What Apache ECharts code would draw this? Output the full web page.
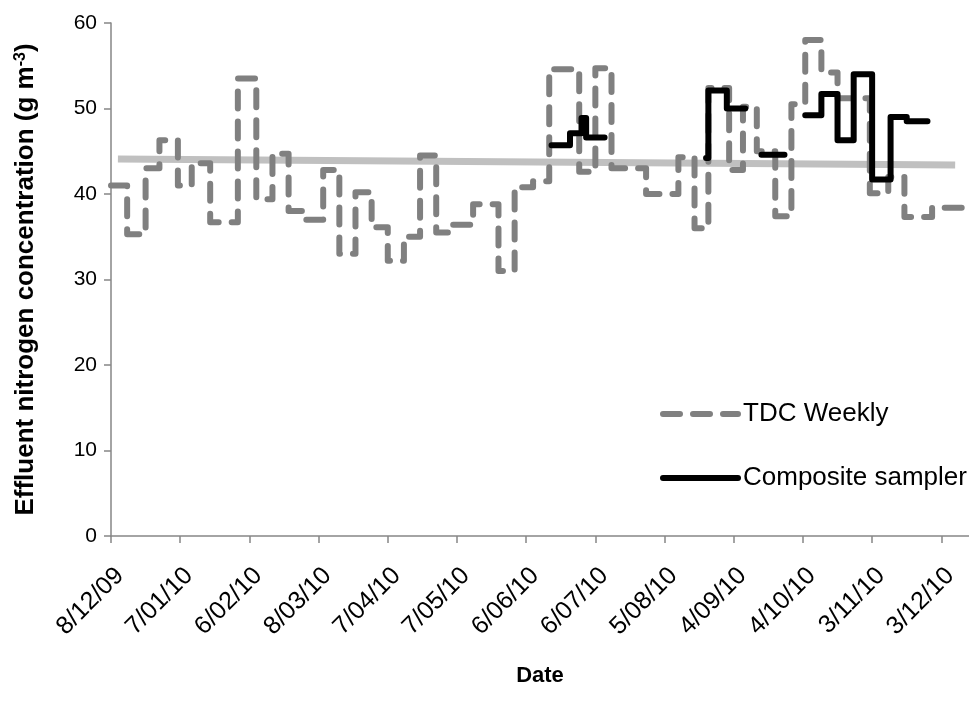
<!DOCTYPE html>
<html>
<head>
<meta charset="utf-8">
<script src="https://cdn.jsdelivr.net/npm/echarts@6/dist/echarts.min.js"></script>
<style>
  html, body { margin: 0; padding: 0; background: #fff; }
  #chart { width: 969px; height: 707px; }
</style>
</head>
<body>
<div id="chart"></div>
<script>
// Weekly TDC effluent nitrogen results (g m-3); each value holds until the next date
const tdcDates = [
  '2009-12-08', '2009-12-15', '2009-12-23', '2009-12-29', '2010-01-06', '2010-01-12',
  '2010-01-20', '2010-02-01', '2010-02-09', '2010-02-16', '2010-02-23', '2010-03-02',
  '2010-03-10', '2010-03-17', '2010-03-24', '2010-03-31', '2010-04-07', '2010-04-14',
  '2010-04-21', '2010-04-28', '2010-05-05', '2010-05-14', '2010-05-25', '2010-06-01',
  '2010-06-09', '2010-06-16', '2010-06-29', '2010-07-06', '2010-07-13', '2010-07-28',
  '2010-08-11', '2010-08-18', '2010-08-24', '2010-09-02', '2010-09-08', '2010-09-14',
  '2010-09-22', '2010-09-29', '2010-10-05', '2010-10-12', '2010-10-19', '2010-11-02',
  '2010-11-10', '2010-11-17', '2010-11-29', '2010-12-15'
];
const tdcValues = [
  41.0, 35.3, 43.0, 46.3, 41.0, 43.6,
  36.7, 53.5, 39.4, 44.7, 38.0, 37.0,
  42.8, 33.0, 40.2, 36.1, 32.2, 35.0,
  44.5, 35.5, 36.4, 38.8, 31.0, 40.8,
  41.5, 54.6, 42.6, 54.7, 43.0, 40.0,
  44.3, 36.0, 52.4, 42.8, 50.2, 45.0,
  37.4, 50.5, 58.0, 54.2, 51.2, 40.1,
  42.0, 37.3, 38.4, 38.4
];

// Composite sampler results; null marks a gap between sampling runs
const compDates = [
  '2010-06-17', '2010-06-25', '2010-06-30', '2010-07-02', '2010-07-10', '2010-07-10',
  '2010-08-23', '2010-08-24', '2010-09-01', '2010-09-09', '2010-09-09',
  '2010-09-16', '2010-09-26', '2010-09-26',
  '2010-10-05', '2010-10-12', '2010-10-19', '2010-10-26', '2010-11-03', '2010-11-11',
  '2010-11-18', '2010-11-27'
];
const compValues = [
  45.7, 47.1, 48.9, 46.6, 46.6, null,
  44.2, 52.1, 50.0, 50.0, null,
  44.6, 44.6, null,
  49.2, 51.7, 46.3, 54.0, 41.7, 49.0,
  48.5, 48.5
];

// Linear trend of the weekly results
const trendDates = ['2009-12-11', '2010-12-09'];
const trendValues = [44.1, 43.4];

// Axis settings
const axisStart = '2009-12-08';
const axisDays = 372;
const tickDays = 30;
const yTicks = [0, 10, 20, 30, 40, 50, 60];

const DAY = 86400000;
const base = Date.parse(axisStart);
const toDay = s => (Date.parse(s) - base) / DAY;
const pairs = (dates, values) => dates.map((d, i) => [toDay(d), values[i]]);

function fmtDate(v) {
  if (Math.round(v) % tickDays !== 0) return '';
  const d = new Date(base + Math.round(v) * DAY);
  const mm = String(d.getUTCMonth() + 1).padStart(2, '0');
  const yy = String(d.getUTCFullYear() % 100).padStart(2, '0');
  return d.getUTCDate() + '/' + mm + '/' + yy;
}

const FONT = "'Liberation Sans', Arial, sans-serif";
const AXIS_GREY = '#868686';
const chart = echarts.init(document.getElementById('chart'), null, { renderer: 'canvas' });

chart.setOption({
  animation: false,
  backgroundColor: '#ffffff',
  textStyle: { fontFamily: FONT },
  grid: { left: 111, right: 0, top: 23, bottom: 171, containLabel: false },
  legend: {
    orient: 'vertical',
    left: 660,
    top: 401,
    padding: 0,
    itemWidth: 75,
    itemHeight: 30,
    itemGap: 38,
    data: ['TDC Weekly', 'Composite sampler'],
    textStyle: { fontFamily: FONT, fontSize: 26, color: '#000' },
    lineStyle: { width: 6 },
    itemStyle: { opacity: 0, borderWidth: 0 }
  },
  xAxis: {
    type: 'value',
    min: 0,
    max: axisDays,
    interval: tickDays,
    name: 'Date',
    nameLocation: 'middle',
    nameGap: 129,
    nameTextStyle: { fontFamily: FONT, fontSize: 22, fontWeight: 'bold', color: '#000' },
    axisLine: { show: true, lineStyle: { color: AXIS_GREY, width: 1.5 } },
    axisTick: { show: true, length: 7, lineStyle: { color: AXIS_GREY, width: 1.5 } },
    splitLine: { show: false },
    axisLabel: {
      rotate: 45,
      margin: 27,
      align: 'right',
      verticalAlign: 'top',
      fontSize: 25,
      color: '#000',
      fontFamily: FONT,
      showMaxLabel: false,
      formatter: fmtDate
    }
  },
  yAxis: {
    type: 'value',
    min: yTicks[0],
    max: yTicks[yTicks.length - 1],
    interval: 10,
    name: 'Effluent nitrogen concentration (g m{sup|-3})',
    nameLocation: 'middle',
    nameGap: 72,
    nameRotate: 90,
    nameTextStyle: {
      fontFamily: FONT, fontSize: 26, fontWeight: 'bold', color: '#000',
      rich: {
        sup: { fontFamily: FONT, fontSize: 16, fontWeight: 'bold', color: '#000', verticalAlign: 'top', padding: [0, 0, 10, 0] }
      }
    },
    axisLine: { show: true, lineStyle: { color: AXIS_GREY, width: 1.5 } },
    axisTick: { show: true, length: 7, lineStyle: { color: AXIS_GREY, width: 1.5 } },
    splitLine: { show: false },
    axisLabel: { margin: 14, fontSize: 21, color: '#000', fontFamily: FONT }
  },
  series: [
    {
      name: 'Trend',
      type: 'line',
      data: pairs(trendDates, trendValues),
      symbol: 'none',
      silent: true,
      lineStyle: { color: '#c0c0c0', width: 7 },
      z: 1
    },
    {
      name: 'TDC Weekly',
      type: 'line',
      step: 'end',
      data: pairs(tdcDates, tdcValues),
      symbol: 'none',
      itemStyle: { color: '#808080' },
      lineStyle: { color: '#808080', width: 6, type: [17, 13], cap: 'round', join: 'round' },
      z: 2
    },
    {
      name: 'Composite sampler',
      type: 'line',
      step: 'end',
      connectNulls: false,
      data: pairs(compDates, compValues),
      symbol: 'none',
      itemStyle: { color: '#000' },
      lineStyle: { color: '#000', width: 6, cap: 'round', join: 'round' },
      z: 3
    }
  ]
});
</script>
</body>
</html>
